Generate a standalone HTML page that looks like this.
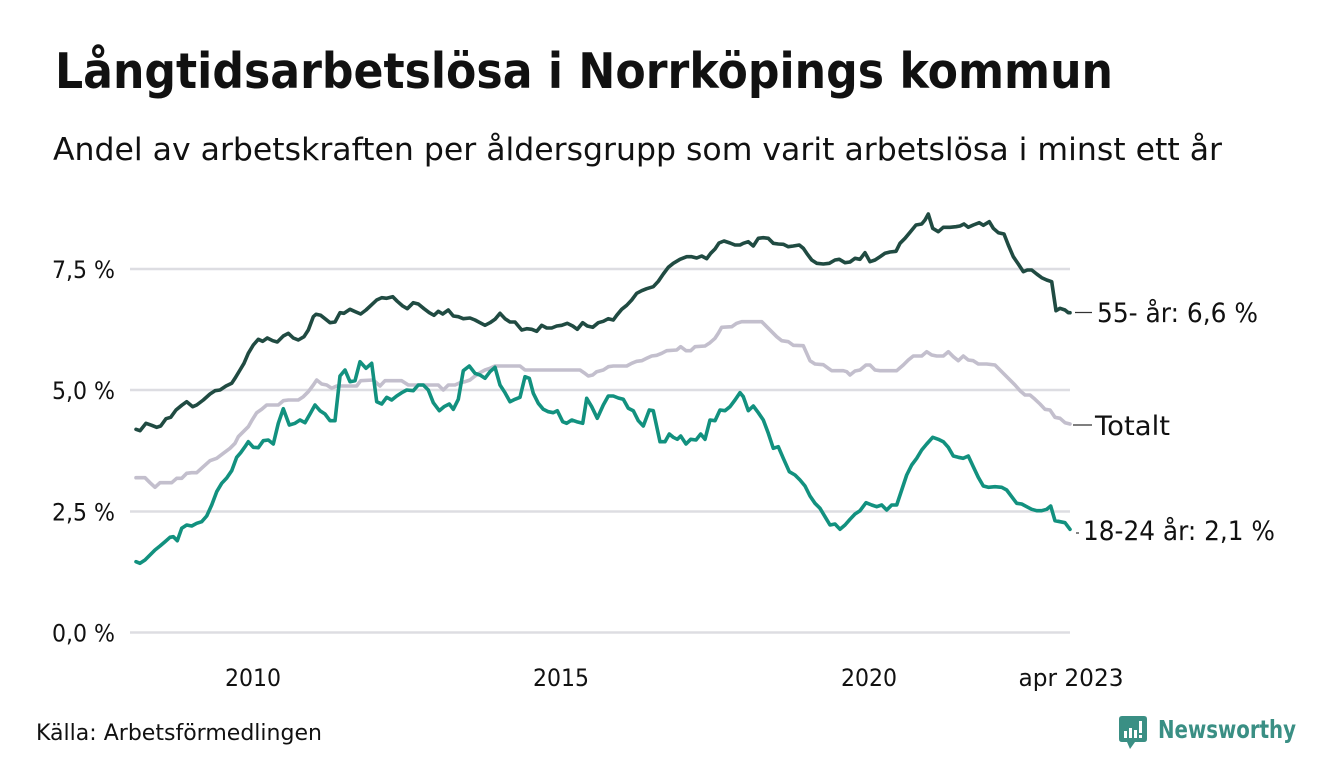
<!DOCTYPE html>
<html>
<head>
<meta charset="utf-8">
<style>
html,body{margin:0;padding:0;background:#fff;}
svg{display:block;}
text{font-family:"DejaVu Sans","Liberation Sans",sans-serif;fill:#111;}
</style>
</head>
<body>
<svg width="1340" height="780" viewBox="0 0 1340 780" xmlns="http://www.w3.org/2000/svg">
<rect width="1340" height="780" fill="#fff"/>
<text x="55" y="88" font-size="49" font-weight="bold" textLength="1058" lengthAdjust="spacingAndGlyphs">Långtidsarbetslösa i Norrköpings kommun</text>
<text x="53" y="160" font-size="31" textLength="1169" lengthAdjust="spacingAndGlyphs">Andel av arbetskraften per åldersgrupp som varit arbetslösa i minst ett år</text>

<g stroke="#dddde2" stroke-width="2.5">
<line x1="130" y1="269" x2="1070" y2="269"/>
<line x1="130" y1="390" x2="1070" y2="390"/>
<line x1="130" y1="511.5" x2="1070" y2="511.5"/>
<line x1="130" y1="632.5" x2="1070" y2="632.5"/>
</g>
<g font-size="24" text-anchor="end">
<text x="115" y="278" textLength="63" lengthAdjust="spacingAndGlyphs">7,5 %</text>
<text x="115" y="399" textLength="63" lengthAdjust="spacingAndGlyphs">5,0 %</text>
<text x="115" y="520.5" textLength="63" lengthAdjust="spacingAndGlyphs">2,5 %</text>
<text x="115" y="641.5" textLength="63" lengthAdjust="spacingAndGlyphs">0,0 %</text>
</g>
<g font-size="24" text-anchor="middle">
<text x="253" y="686" textLength="56" lengthAdjust="spacingAndGlyphs">2010</text>
<text x="561" y="686" textLength="56" lengthAdjust="spacingAndGlyphs">2015</text>
<text x="869" y="686" textLength="56" lengthAdjust="spacingAndGlyphs">2020</text>
<text x="1071" y="686" textLength="105" lengthAdjust="spacingAndGlyphs">apr 2023</text>
</g>

<g fill="none" stroke-width="3.6" stroke-linejoin="round" stroke-linecap="round">
<polyline stroke="#c3bfcd" points="136,477.7 145,477.7 150,482.7 155,487.3 160,482.7 165,482.7 171.7,482.7 176.7,478.3 181.7,478.3 186.7,473.3 191.7,472.7 196.7,472.7 203.3,466.7 210,460.7 216.7,458.3 223.3,453.3 230,448.3 235,443.3 238.3,436.7 243.3,431.7 248.3,426.7 251.7,420.7 256.7,412.7 261.7,409.3 266.7,405 271.7,405 278.3,405 283.3,400.7 288.3,400 298.3,400 303.3,396.7 308.3,391.7 313.3,385 316.7,380 321.7,384 326.7,385 331.7,388.3 336.7,386 356.7,386 360.7,380.7 373.3,380 380,386 385,380.7 401.7,380.7 408.3,385 438.3,385 443.3,390 448.3,385 455,385 460,382.7 465,381.7 470,380 475,376 480,372.7 485,370 490,368.3 495,366 520,366 525,370 580,370 584,372.7 588.3,376 592.7,375 596.7,371.7 603.3,370 608.3,366.7 613.3,366 626.7,366 631.7,363.3 636.7,361.3 641.7,360.7 646.7,358.3 651.7,356 656.7,355.3 661.7,353.3 666.7,350.7 676.7,350 680.7,346.7 686,350.7 690.7,350.7 695,346.7 705,346 710,342.7 715,338.3 718.3,333.3 721.7,327.3 731.7,326.7 736.7,323.3 741.7,321.7 761.7,321.7 766.7,326.7 771.7,331.7 776.7,336.7 781.7,340.7 788.3,341.7 793.3,345.3 803.3,345.7 806.7,353.3 810,360.7 815,364 823.3,364.7 828.3,368.3 831.7,370.7 843.3,370.7 846.7,371.7 850,375 855,371 860,370 866,365 870,365 875,370 880,370.7 896.7,370.7 903.3,365 908.3,360 913.3,356 921.7,356 926.7,351.7 931.7,355 936.7,356 943.3,356 948.3,351.7 953.3,356.7 958.3,360.7 963.3,356 968.3,360 973.3,360.7 978.3,364 986.7,364 995,365 1000,370 1005,375 1010,380 1015,385 1020,390.7 1025,395 1030,395 1035,399.3 1040,404 1045,409.3 1050,410 1055,417.3 1060,418.3 1065,422.7 1070,424"/>
<polyline stroke="#12917f" points="136,561.7 140,563.3 145,560 150,555 155,550 160,546 165,541.7 170,537.3 173.3,536.7 177.3,540.7 181.7,528.3 186.7,525 191.7,526 196.7,523.3 201.7,521.7 206.7,516 211.7,505 216.7,491.7 221.7,483.3 226.7,478 231.7,470.7 236.7,457.3 240.7,452.7 245,446.7 248.3,441.7 253.3,447.3 258.3,447.7 263.3,440.7 268.3,440 273.3,444 278.3,423.3 283.3,408.7 289.3,425 295,423.3 300,420 305,422.7 310,414 315,405 320,410.7 325,414 330,420.7 335,420.7 340,376 345,370 350,381.7 355,380.7 360,361.7 366,368.3 371.7,363.3 376.7,401.7 381.7,404 386.7,397.3 391.7,400 396.7,396 401.7,392.7 406.7,390 413.3,390.7 418.3,385 423.3,385 428.3,390 433.3,402.7 439.3,410.7 444,406.7 449.3,404 453.3,409.3 458.3,399.3 463.3,370.7 469.3,366 475,373.3 480,375 485,378.3 490,371.7 495,367.3 500,385 505,392.7 510,401.7 515,399.3 520,397.3 525,376.7 529.3,378.3 533.3,393.3 538.3,403.3 543.3,409.3 548.3,411.7 553.3,412.7 557.3,410.7 562.7,421.7 566.7,423.3 571.7,420 576.7,421.7 582.7,423.3 586.7,398.3 591.7,406.7 597.3,418.3 603.3,405 608.3,396 613.3,396 618.3,398 623.3,399.3 628.3,408.3 633.3,410.7 638.3,420.7 643.3,426 649.3,410 653.3,410.7 660,441.7 665,441.7 669.3,434 673.3,437.3 677.3,439.3 680.7,436 686,444 690.7,439.3 696,440 700.7,434 705,439.3 710,420 715,420.7 720,410 725,410.7 730,406.7 735,400 740,392.7 743.3,396.7 748.3,410.7 753.3,406 758.3,412.7 763.3,420 768.3,433.3 773.3,448.3 778.3,446.7 783.3,458.3 789.3,471.7 795,475 800,480 805,486 810,496 815,503.3 820,508.3 825,516.7 830,525 835,524 840,529.3 845,525 850,519.3 855,514 860,510.7 866,502.7 871.7,505 876.7,506.7 881.7,505 886.7,510 891.7,505 896.7,505 901.7,490 906.7,475 911.7,465 916.7,458.3 921.7,450 926.7,444 932.7,437.3 938.3,439.3 943.3,441.7 948.3,447.3 953.3,456 958.3,457.3 963.3,458.3 968.3,456 973.3,466.7 978.3,477.3 983.3,486 988.3,487.3 995,486.7 1001.7,487.3 1006.7,490 1011.7,496.7 1016.7,503.3 1021.7,504 1026.7,506.7 1031.7,509.3 1036.7,510.7 1041.7,510.7 1046.7,509.3 1050.7,506 1055,520.7 1060,521.7 1065,522.7 1070,529.3"/>
<polyline stroke="#204b42" points="136,429.3 140,430.7 146,423.3 151.7,425.3 156.7,427.3 160.7,426 166,418.7 170.7,417.3 176,410 181.7,405.3 186.7,401.7 192.7,406.7 196.7,405 203.3,400 210,394 215,390.7 220,390 226,386 231.7,383.3 235,378.3 240,370 244,363.3 248.3,353.3 253.3,345 258.3,339.3 262.7,341.3 267.3,338 272.7,340.7 277.3,342 283.3,336 288.3,333.3 293.3,338 298.3,340 304,336.7 308.3,330 313.3,316.7 316,314.3 320.7,315.3 325,318.7 330,322.7 335,322 340,312.7 344,313.3 350,309.3 356,312 360.7,314 366,310 371.7,304.7 376.7,300 381.7,297.7 386.7,298.3 392.7,296.7 397.3,301.3 402.7,306 407.3,308.7 413.3,302.7 418.3,304 424,308.7 429.3,312.7 434,315.3 438.3,311.3 442.7,314 448.3,310 453.3,316 458.3,316.7 463.3,318.7 470,318 475,320 480,322.7 485,325.3 490,322.7 495,319.3 500,313.3 505,318.7 510,322 515,322 521.7,330 526.7,328.7 531.7,329.3 536.7,331.3 541.7,325.3 546.7,328 551.7,328 556.7,326 561.7,325.3 567.3,323.3 572.7,326 577.3,329.3 582.7,322.7 587.3,326 592.7,327.3 598.3,322.7 603.3,321.3 608.3,318.7 613.3,320 616.7,315.3 621.7,309.3 626.7,305.3 631.7,300 636.7,293.3 641.7,290.7 646.7,288.7 653.3,286.7 658.3,281.3 663.3,274 668.3,267.3 673.3,263.3 680,259.3 686.7,256.7 691.7,256.7 696.7,258 701.7,256 706.7,258.7 710.7,253.3 715,249 719,243 724,241 730,243 735,245 740,245 743.3,243.3 748.3,241.7 753.3,246 758.3,238.3 763.3,237.7 768.3,238.3 773.3,243.3 778.3,244 783.3,244.3 788.3,246.7 793.3,246 799.3,245 803.3,248.3 806.7,253.3 811.7,260 816.7,263.3 823.3,264 829.3,263.3 835,260 839.3,259.3 845,262.7 850,262 855,258.3 860,259.3 865,252.7 870,261.7 875,260 880,256.7 885,253.3 890,252 896,251.3 900,243.3 905,238.3 910,232.3 916,225 921.7,224 925,220 928.3,214 932.7,228.3 938.3,231.7 943.3,227.3 950,227.3 956,226.7 960,226 964,224 968.3,227.3 973.3,225 979.3,222.7 983.3,225.3 989.3,221.7 993.3,228.3 998.3,232.7 1004,234 1008.3,245 1013.3,256.7 1018.3,264 1023.3,271.7 1027.3,270 1031.7,270 1036.7,274 1041.7,277.7 1046.7,280 1051.7,281.7 1056,310.7 1060,308.3 1065,310 1068.3,312.7 1070,312.7"/>
</g>

<g stroke="#333" stroke-width="1.2">
<line x1="1075" y1="312.5" x2="1092" y2="312.5"/>
<line x1="1073" y1="425" x2="1092" y2="425"/>
<line x1="1076" y1="533" x2="1079" y2="533"/>
</g>
<g font-size="27">
<text x="1097" y="322" textLength="161" lengthAdjust="spacingAndGlyphs">55- år: 6,6 %</text>
<text x="1095" y="435" textLength="75" lengthAdjust="spacingAndGlyphs">Totalt</text>
<text x="1083" y="540" textLength="192" lengthAdjust="spacingAndGlyphs">18-24 år: 2,1 %</text>
</g>

<text x="36" y="740" font-size="22" textLength="286" lengthAdjust="spacingAndGlyphs">Källa: Arbetsförmedlingen</text>

<g>
<path d="M1122,716 H1144 Q1147,716 1147,719 V739 Q1147,742 1144,742 H1135 L1130,749 L1127,742 H1122 Q1119,742 1119,739 V719 Q1119,716 1122,716 Z" fill="#3a8f84"/>
<rect x="1124" y="731" width="3" height="7" fill="#fff"/>
<rect x="1129" y="728" width="3" height="10" fill="#fff"/>
<rect x="1134" y="730" width="3" height="8" fill="#fff"/>
<rect x="1139" y="721" width="3" height="12" fill="#fff"/>
<rect x="1139" y="735" width="3" height="3" fill="#fff"/>
<text x="1158" y="738" font-size="25" font-weight="bold" style="fill:#3a8f84" textLength="138" lengthAdjust="spacingAndGlyphs">Newsworthy</text>
</g>
</svg>
</body>
</html>
